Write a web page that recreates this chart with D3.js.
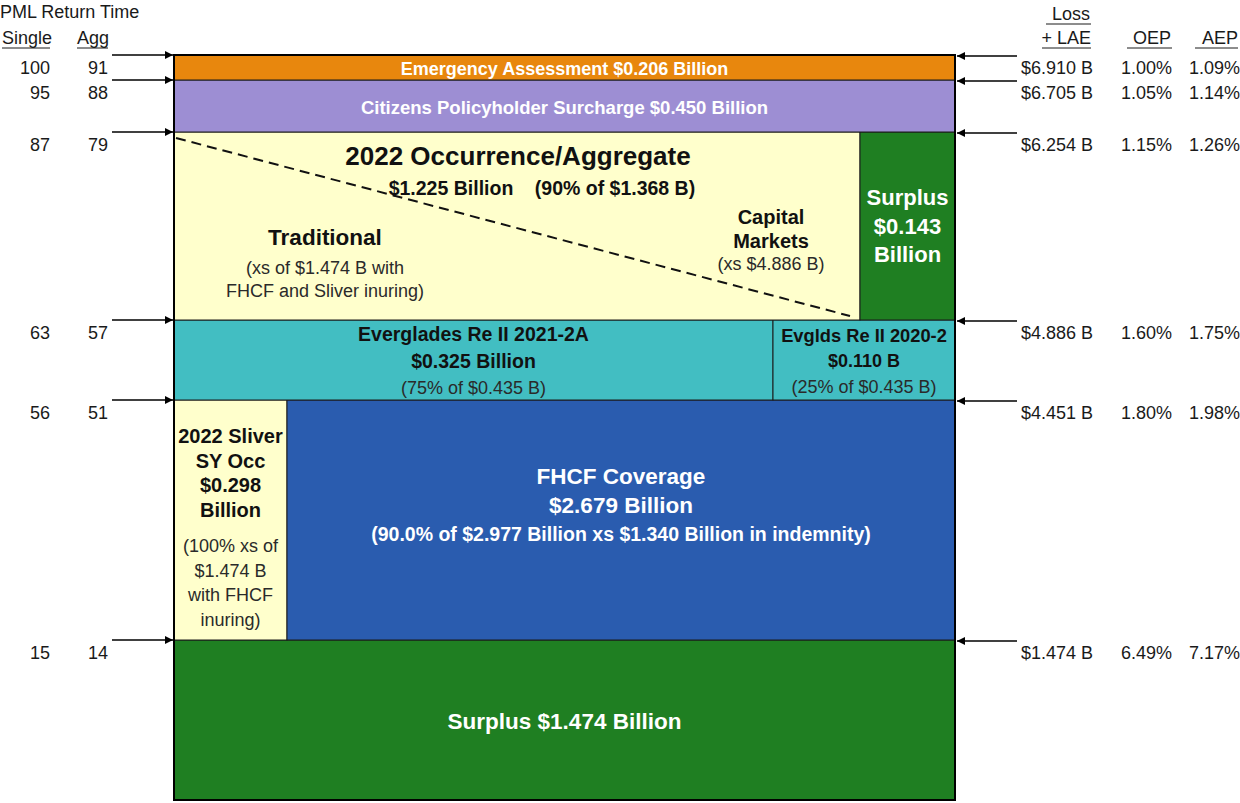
<!DOCTYPE html>
<html lang="en">
<head>
<meta charset="UTF-8">
<title>Citizens 2022 Risk Transfer Tower</title>
<script src="https://d3js.org/d3.v7.min.js"></script>
<style>
  body { margin: 0; background: #fff; }
  text { font-family: "Liberation Sans", Arial, sans-serif; fill: #1a1a1a; }
</style>
</head>
<body>
<script>
// layer boundaries, loss + LAE in $ billions (bottom to top)
var lossBounds = [0, 1.474, 4.451, 4.886, 6.254, 6.705, 6.910];
var lossLabels = ["$1.474 B", "$4.451 B", "$4.886 B", "$6.254 B", "$6.705 B", "$6.910 B"];
var singleRT = [15, 56, 63, 87, 95, 100];
var aggRT = [14, 51, 57, 79, 88, 91];
var oep = ["6.49%", "1.80%", "1.60%", "1.15%", "1.05%", "1.00%"];
var aep = ["7.17%", "1.98%", "1.75%", "1.26%", "1.14%", "1.09%"];

// layers: loss range and horizontal column
var layers = [
  {key: "surplus", lo: 0, hi: 1.474, col: ["left", "right"], fill: "#1f7f22"},
  {key: "sliver", lo: 1.474, hi: 4.451, col: ["left", "sliver"], fill: "#ffffcc"},
  {key: "fhcf", lo: 1.474, hi: 4.451, col: ["sliver", "right"], fill: "#2a5caf"},
  {key: "eg21", lo: 4.451, hi: 4.886, col: ["left", "evglds"], fill: "#42bec2"},
  {key: "eg20", lo: 4.451, hi: 4.886, col: ["evglds", "right"], fill: "#42bec2"},
  {key: "occ", lo: 4.886, hi: 6.254, col: ["left", "surplus2"], fill: "#ffffcc"},
  {key: "surplus2", lo: 4.886, hi: 6.254, col: ["surplus2", "right"], fill: "#1f7f22"},
  {key: "citizens", lo: 6.254, hi: 6.705, col: ["left", "right"], fill: "#9d8ed3"},
  {key: "emergency", lo: 6.705, hi: 6.910, col: ["left", "right"], fill: "#e8870d"}
];

// text in each layer
var layerText = {
  emergency: [["Emergency Assessment $0.206 Billion", "b18w"]],
  citizens: [["Citizens Policyholder Surcharge $0.450 Billion", "b18.5w"]],
  surplus2: [["Surplus", "b22w"], ["$0.143", "b22w"], ["Billion", "b22w"]],
  eg21: [["Everglades Re II 2021-2A", "b19.5"], ["$0.325 Billion", "b19.5"], ["(75% of $0.435 B)", "n18"]],
  eg20: [["Evglds Re II 2020-2", "b18.3"], ["$0.110 B", "b18"], ["(25% of $0.435 B)", "n18"]],
  sliver: [["2022 Sliver", "b20"], ["SY Occ", "b20"], ["$0.298", "b20"], ["Billion", "b20"],
           ["(100% xs of", "n18"], ["$1.474 B", "n18"], ["with FHCF", "n18"], ["inuring)", "n18"]],
  fhcf: [["FHCF Coverage", "b22.5w"], ["$2.679 Billion", "b22.5w"],
         ["(90.0% of $2.977 Billion xs $1.340 Billion in indemnity)", "b19.5w"]],
  surplus: [["Surplus $1.474 Billion", "b22.5w"]]
};

var W = 1240, H = 803;
var svg = d3.select("body").append("svg").attr("width", W).attr("height", H);

// tower is drawn as a stacked diagram, not to scale: polylinear y
var y = d3.scaleLinear().domain(lossBounds).range([800, 640, 400, 320, 132, 80, 55]);
var x = d3.scaleOrdinal()
  .domain(["left", "sliver", "evglds", "surplus2", "right"])
  .range([174, 287, 773, 860, 955]);

function style(sel, s) {
  var bold = s[0] === "b";
  var size = +s.replace(/[a-z]/g, "");
  sel.attr("font-weight", bold ? "bold" : "normal")
    .attr("font-size", size + "px")
    .style("fill", s.slice(-1) === "w" ? "#fff" : (bold ? "#111" : "#2a2a2a"));
}

var defs = svg.append("defs");
defs.append("marker").attr("id", "arr").attr("viewBox", "0 0 10 10")
  .attr("refX", 10).attr("refY", 5).attr("markerWidth", 11).attr("markerHeight", 8)
  .attr("markerUnits", "userSpaceOnUse").attr("orient", "auto")
  .append("path").attr("d", "M0,0L10,5L0,10Z").attr("fill", "#000");

// rectangles
svg.append("g").selectAll("rect").data(layers).enter().append("rect")
  .attr("x", function(d) { return x(d.col[0]); })
  .attr("width", function(d) { return x(d.col[1]) - x(d.col[0]); })
  .attr("y", function(d) { return y(d.hi); })
  .attr("height", function(d) { return y(d.lo) - y(d.hi); })
  .attr("fill", function(d) { return d.fill; })
  .attr("stroke", "#1a1a1a").attr("stroke-width", 1);

// outer border
svg.append("rect")
  .attr("x", x("left")).attr("y", y(6.910))
  .attr("width", x("right") - x("left")).attr("height", y(0) - y(6.910))
  .attr("fill", "none").attr("stroke", "#000").attr("stroke-width", 2);

// dashed split traditional / capital markets
svg.append("line")
  .attr("x1", x("left") + 2).attr("y1", y(6.254) + 6)
  .attr("x2", x("surplus2") - 10).attr("y2", y(4.886) - 4)
  .attr("stroke", "#111").attr("stroke-width", 2).attr("stroke-dasharray", "10,6");

// centered layer text
var lineGap = {surplus2: 28.5, eg21: 27, eg20: 26, sliver: 24.5, fhcf: 29};
layers.forEach(function(d) {
  var lines = layerText[d.key];
  if (!lines) return;
  var cx = (x(d.col[0]) + x(d.col[1])) / 2;
  var top = y(d.hi), bot = y(d.lo);
  var gap = lineGap[d.key] || 0;
  var cy;
  if (d.key === "fhcf") cy = top + 105;
  else if (d.key === "eg21" || d.key === "eg20") cy = (top + bot) / 2 + 1;
  else if (d.key === "sliver") cy = top + 128;
  else if (d.key === "surplus2") cy = top + 94;
  else cy = (top + bot) / 2 + 1;
  var extra = d.key === "sliver" ? 12 : 0;
  lines.forEach(function(l, i) {
    var off = (i - (lines.length - 1) / 2) * gap + (d.key === "sliver" && i >= 4 ? extra : 0) - (d.key === "sliver" ? extra / 2 : 0);
    svg.append("text").attr("x", cx).attr("y", cy + off)
      .attr("text-anchor", "middle").attr("dominant-baseline", "central")
      .text(l[0]).call(style, l[1]);
  });
});

// occurrence / aggregate layer text (free placement in the yellow area)
var occTop = y(6.254);
var occText = [
  ["2022 Occurrence/Aggregate", "b26", 518, 24],
  ["$1.225 Billion", "b19.5", 451, 56],
  ["(90% of $1.368 B)", "b19.5", 615, 56],
  ["Traditional", "b22.5", 325, 105],
  ["(xs of $1.474 B with", "n18", 325, 136],
  ["FHCF and Sliver inuring)", "n18", 325, 159],
  ["Capital", "b20", 771, 85],
  ["Markets", "b20", 771, 109],
  ["(xs $4.886 B)", "n18", 771, 132]
];
occText.forEach(function(t) {
  svg.append("text").attr("x", t[2]).attr("y", occTop + t[3])
    .attr("text-anchor", "middle").attr("dominant-baseline", "central")
    .text(t[0]).call(style, t[1]);
});

// arrows at the boundaries
var marks = lossBounds.slice(1);
svg.append("g").selectAll("line").data(marks).enter().append("line")
  .attr("x1", 112).attr("x2", x("left") - 1)
  .attr("y1", function(d) { return y(d); }).attr("y2", function(d) { return y(d); })
  .attr("stroke", "#000").attr("stroke-width", 1.3).attr("marker-end", "url(#arr)");
svg.append("g").selectAll("line").data(marks).enter().append("line")
  .attr("x1", 1017).attr("x2", x("right") + 2)
  .attr("y1", function(d) { return y(d) + 1; }).attr("y2", function(d) { return y(d) + 1; })
  .attr("stroke", "#000").attr("stroke-width", 1.3).attr("marker-end", "url(#arr)");

// side labels
function col(vals, xPos, anchor) {
  svg.append("g").selectAll("text").data(vals).enter().append("text")
    .attr("x", xPos).attr("text-anchor", anchor)
    .attr("y", function(d, i) { return y(lossBounds[i + 1]) + 13; })
    .attr("dominant-baseline", "central")
    .attr("font-size", "18px")
    .text(function(d) { return d; });
}
col(singleRT, 50, "end");
col(aggRT, 108, "end");
col(lossLabels, 1093, "end");
col(oep, 1172, "end");
col(aep, 1240, "end");

// headers
function header(txt, xPos, yPos, anchor, ul) {
  svg.append("text").attr("x", xPos).attr("y", yPos).attr("text-anchor", anchor)
    .attr("dominant-baseline", "central").attr("font-size", "18px")
    .text(txt);
  if (ul) {
    svg.append("line").attr("x1", ul[0]).attr("x2", ul[1])
      .attr("y1", yPos + 10).attr("y2", yPos + 10)
      .attr("stroke", "#1a1a1a").attr("stroke-width", 1);
  }
}
header("PML Return Time", 0, 12, "start");
header("Single", 2, 38, "start", [2, 50]);
header("Agg", 77, 38, "start", [77, 108]);
header("Loss", 1090, 14, "end", [1046, 1091]);
header("+ LAE", 1091, 38, "end", [1042, 1091]);
header("OEP", 1171, 38, "end", [1127, 1172]);
header("AEP", 1238, 38, "end", [1195, 1238]);
</script>
</body>
</html>
